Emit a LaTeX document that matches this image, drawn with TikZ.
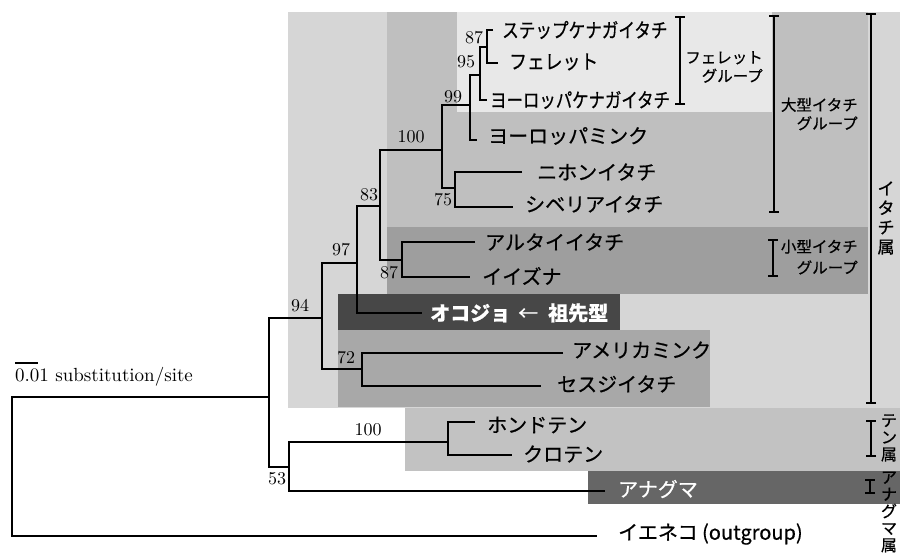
\documentclass[tikz,border=0pt]{standalone}
\usepackage{fontspec}
\newfontfamily\jp{Noto Sans CJK JP}[FakeBold=0.6]
\newfontfamily\numfont{lmroman10-regular.otf}
\usetikzlibrary{arrows.meta}
\definecolor{cGenus}{gray}{0.84}
\definecolor{cFerret}{gray}{0.91}
\definecolor{cLarge}{gray}{0.75}
\definecolor{cSmall}{gray}{0.62}
\definecolor{cOkojo}{gray}{0.28}
\definecolor{cMink}{gray}{0.66}
\definecolor{cTen}{gray}{0.76}
\definecolor{cAnaguma}{gray}{0.40}
\begin{document}
\begin{tikzpicture}[x=1pt,y=-1pt,
  branch/.style={line width=2.2pt},
  leaf/.style={anchor=west,inner sep=0pt,font=\jp\fontsize{20}{22}\selectfont},
  wleaf/.style={leaf,text=white},
  supp/.style={inner sep=0pt,font=\numfont\fontsize{18}{18}\selectfont},
  grp/.style={align=right,anchor=east,inner sep=0pt,font=\jp\fontsize{15.5}{18.5}\selectfont},
  vlab/.style={align=center,inner sep=0pt,font=\jp\fontsize{17}{19.5}\selectfont},
  vlabs/.style={align=center,inner sep=0pt,font=\jp\fontsize{16}{17}\selectfont},
  bracket/.style={line width=2pt,{Bar[width=10pt]}-{Bar[width=10pt]}}]
\useasboundingbox (0,0) rectangle (900,555);
\fill[white] (0,0) rectangle (900,555);
% background groups
\fill[cGenus] (288,12) rectangle (900,408);
\fill[cLarge] (387,12) rectangle (868,227);
\fill[cFerret] (457,12) rectangle (772,112);
\fill[cSmall] (387,227) rectangle (868,294);
\fill[cOkojo] (338,294) rectangle (620,330);
\fill[cMink] (338,330) rectangle (710,407);
\fill[cTen] (405,408) rectangle (900,471);
\fill[cAnaguma] (588,471) rectangle (900,504);
% internal branch points
\coordinate (R) at (12,397);
\coordinate (A) at (269,397);
\coordinate (G) at (322,318);
\coordinate (C) at (357,263);
\coordinate (D) at (362,369);
\coordinate (E) at (380,206);
\coordinate (F) at (442,150);
\coordinate (H) at (402,260);
\coordinate (I) at (470,105);
\coordinate (J) at (455,188);
\coordinate (K) at (480,75);
\coordinate (L) at (487,47);
\coordinate (B) at (289,467);
\coordinate (T) at (448,442);
% leaf ends
\coordinate (stepE) at (493,30);
\coordinate (ferE) at (498,63);
\coordinate (epolE) at (487,100);
\coordinate (eminkE) at (477,140);
\coordinate (nihE) at (522,172);
\coordinate (sibE) at (513,207);
\coordinate (aruE) at (475,242);
\coordinate (iizE) at (470,277);
\coordinate (okoE) at (422,313);
\coordinate (ameE) at (563,353);
\coordinate (sesE) at (541,386);
\coordinate (honE) at (475,422);
\coordinate (kuroE) at (512,455);
\coordinate (anaE) at (605,491);
\coordinate (catE) at (597,536);
% tree
\draw[branch] (A) -- (R) |- (catE);
\draw[branch] (G) -| (A) |- (B);
\draw[branch] (C) -| (G) |- (D);
\draw[branch] (E) -| (C) |- (okoE);
\draw[branch] (ameE) -| (D) |- (sesE);
\draw[branch] (F) -| (E) |- (H);
\draw[branch] (aruE) -| (H) |- (iizE);
\draw[branch] (I) -| (F) |- (J);
\draw[branch] (nihE) -| (J) |- (sibE);
\draw[branch] (K) -| (I) |- (eminkE);
\draw[branch] (L) -| (K) |- (epolE);
\draw[branch] (stepE) -| (L) |- (ferE);
\draw[branch] (T) -| (B) |- (anaE);
\draw[branch] (honE) -| (T) |- (kuroE);
% leaf labels
\node[leaf] (nStep) at (502,30) {\scalebox{0.83}[1]{ステップケナガイタチ}};
\node[leaf] (nFer) at (509,62) {\scalebox{0.89}[1]{フェレット}};
\node[leaf] (nEpol) at (490,100) {\scalebox{0.82}[1]{ヨーロッパケナガイタチ}};
\node[leaf] (nEmink) at (488,136) {ヨーロッパミンク};
\node[leaf] (nNih) at (537,172) {ニホンイタチ};
\node[leaf] (nSib) at (525,204) {シベリアイタチ};
\node[leaf] (nAru) at (485,242) {アルタイイタチ};
\node[leaf] (nIiz) at (482,276) {イイズナ};
\node[wleaf] (nOko) at (430,313) {\bfseries オコジョ\hspace{8pt}{\mdseries ←}\hspace{10pt}祖先型};
\node[leaf] (nAme) at (572,350) {アメリカミンク};
\node[leaf] (nSes) at (557,384) {セスジイタチ};
\node[leaf] (nHon) at (487,425) {ホンドテン};
\node[leaf] (nKuro) at (523,454) {クロテン};
\node[wleaf] (nAna) at (618,489) {アナグマ};
\node[leaf] (nCat) at (618,534) {イエネコ (outgroup)};
% support values
\node[supp] (s87a) at (474,38) {87};
\node[supp] (s95) at (466,62) {95};
\node[supp] (s99) at (453,97) {99};
\node[supp] (s100a) at (411,137) {100};
\node[supp] (s75) at (443,200) {75};
\node[supp] (s83) at (369,195) {83};
\node[supp] (s87b) at (389,273) {87};
\node[supp] (s97) at (341,250) {97};
\node[supp] (s94) at (300,306) {94};
\node[supp] (s72) at (346,358) {72};
\node[supp] (s100b) at (368,430) {100};
\node[supp] (s53) at (277,479) {53};
% scale bar
\coordinate (sb1) at (15,363);
\coordinate (sb2) at (38,363);
\draw[line width=1.8pt] (sb1) -- (sb2);
\node[anchor=base west,inner sep=0pt,font=\numfont\fontsize{19}{19}\selectfont] (scale) at (15,381) {0.01 substitution/site};
% brackets
\coordinate (fb1) at (680,16); \coordinate (fb2) at (680,105);
\coordinate (lb1) at (774,15); \coordinate (lb2) at (774,213);
\coordinate (sb3) at (773,239); \coordinate (sb4) at (773,277);
\coordinate (gb1) at (871,13); \coordinate (gb2) at (871,404);
\coordinate (tb1) at (871,420); \coordinate (tb2) at (871,457);
\coordinate (ab1) at (870,479); \coordinate (ab2) at (870,494);
\draw[bracket] (fb1) -- (fb2);
\draw[bracket] (lb1) -- (lb2);
\draw[bracket] (sb3) -- (sb4);
\draw[bracket] (gb1) -- (gb2);
\draw[bracket] (tb1) -- (tb2);
\draw[bracket] (ab1) -- (ab2);
\node[grp] (gFer) at (763,67) {フェレット\\グループ};
\node[grp] (gLarge) at (858,114) {大型イタチ\\グループ};
\node[grp,font=\jp\fontsize{15.5}{21}\selectfont] (gSmall) at (858,257) {小型イタチ\\グループ};
\node[vlab] (vGenus) at (886,218) {イ\\タ\\チ\\属};
\node[vlabs] (vTen) at (889,438) {テ\\ン\\属};
\node[vlabs] (vAna) at (889,512) {ア\\ナ\\グ\\マ\\属};
\end{tikzpicture}
\end{document}
